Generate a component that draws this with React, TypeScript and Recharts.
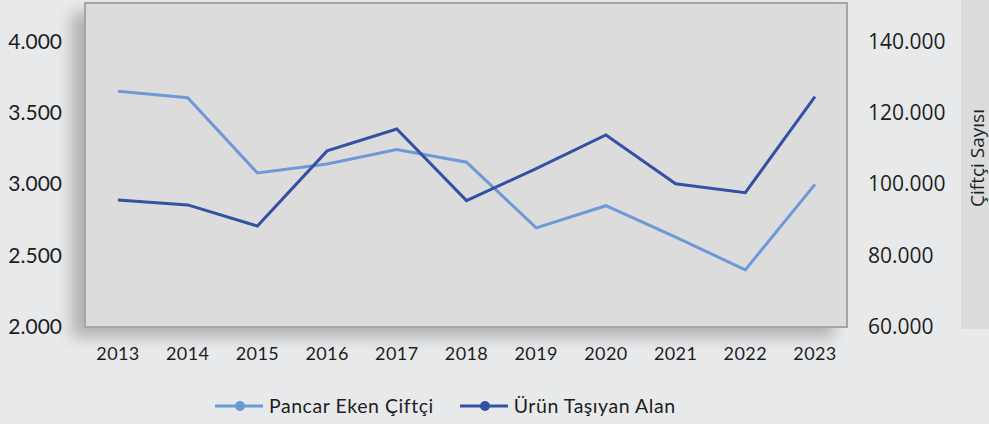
import React from 'react';
import { LineChart, Line, XAxis, YAxis, CartesianGrid, Legend } from 'recharts';

const years = ['2013', '2014', '2015', '2016', '2017', '2018', '2019', '2020', '2021', '2022', '2023'];
const pancarEkenCiftci = [126000, 124200, 103100, 105600, 109700, 106100, 87700, 93900, 85100, 75900, 99900];
const urunTasiyanAlan = [2888, 2853, 2705, 3232, 3386, 2883, 3108, 3344, 3002, 2939, 3613];
const leftTicks = [2000, 2500, 3000, 3500, 4000];
const rightTicks = [60000, 80000, 100000, 120000, 140000];
const seriesNames = ['Pancar Eken Çiftçi', 'Ürün Taşıyan Alan'];
const rightAxisTitle = 'Çiftçi Sayısı';

const data = years.map((y, i) => ({
  year: y,
  ciftci: pancarEkenCiftci[i],
  alan: urunTasiyanAlan[i],
}));

const LIGHT = '#6e99d7';
const DARK = '#3551a3';

const fmt = (v: number) => String(v).replace(/\B(?=(\d{3})+(?!\d))/g, '.');

const PLOT = { x: 85, y: 3, w: 762, h: 323.5 };

const LegendContent = () => {
  const items = [
    { name: seriesNames[0], color: LIGHT },
    { name: seriesNames[1], color: DARK },
  ];
  return (
    <div style={{ display: 'flex', alignItems: 'center', fontFamily: 'Lato', fontSize: 19.5, letterSpacing: 0.55, color: '#1e1e1e', lineHeight: '24px', whiteSpace: 'nowrap' }}>
      {items.map((it, i) => (
        <div key={it.name} style={{ display: 'flex', alignItems: 'center', marginRight: i === 0 ? 26 : 0 }}>
          <svg width={48} height={12} style={{ marginRight: 6 }}>
            <line x1={0} y1={6} x2={48} y2={6} stroke={it.color} strokeWidth={3} />
            <circle cx={25} cy={6} r={5} fill={it.color} />
          </svg>
          <span>{it.name}</span>
        </div>
      ))}
    </div>
  );
};

export default function App() {
  return (
    <div style={{ position: 'absolute', left: 0, top: 0, width: 989, height: 424, background: '#e8e9eb', overflow: 'hidden' }}>
      <div
        style={{
          position: 'absolute',
          left: PLOT.x,
          top: PLOT.y,
          width: PLOT.w,
          height: PLOT.h,
          background: '#dcdcdc',
          boxShadow: '-13px 10px 14px rgba(0,0,0,0.24)',
        }}
      />
      <div
        style={{
          position: 'absolute',
          left: 961,
          top: 0,
          width: 28,
          height: 329,
          background: '#dcdcdc',
        }}
      />
      <div style={{ position: 'absolute', left: 0, top: 0 }}>
        <LineChart width={989} height={424} data={data} margin={{ top: 3, right: 0, left: 0, bottom: 37.5 }}>
          <CartesianGrid vertical={false} stroke="#ececec" strokeWidth={1.5} />
          <XAxis
            dataKey="year"
            height={60}
            axisLine={false}
            tickLine={false}
            tickSize={0}
            tickMargin={21}
            padding={{ left: 33, right: 32 }}
            tick={{ fontFamily: 'Lato', fontSize: 18, fill: '#1e1e1e', letterSpacing: 0.4 }}
          />
          <YAxis
            yAxisId="left"
            orientation="left"
            width={85}
            domain={[2000, 4270]}
            ticks={leftTicks}
            allowDataOverflow
            axisLine={false}
            tickLine={false}
            tickSize={0}
            tickMargin={23}
            tickFormatter={fmt}
            tick={{ fontFamily: 'Lato', fontSize: 21, fill: '#1e1e1e' }}
          />
          <YAxis
            yAxisId="right"
            orientation="right"
            width={142}
            domain={[60000, 150800]}
            ticks={rightTicks}
            allowDataOverflow
            axisLine={false}
            tickLine={false}
            tickSize={0}
            tickMargin={21}
            tickFormatter={fmt}
            tick={{ fontFamily: 'Open Sans', fontSize: 21, fill: '#1e1e1e' }}
          />
          <Legend
            layout="horizontal"
            verticalAlign="middle"
            align="center"
            content={LegendContent}
            wrapperStyle={{ position: 'absolute', top: 394, left: 215, width: 'auto', height: 24 }}
          />
          <Line
            yAxisId="right"
            type="linear"
            dataKey="ciftci"
            name={seriesNames[0]}
            stroke={LIGHT}
            strokeWidth={3}
            dot={false}
            activeDot={false}
            isAnimationActive={false}
          />
          <Line
            yAxisId="left"
            type="linear"
            dataKey="alan"
            name={seriesNames[1]}
            stroke={DARK}
            strokeWidth={3}
            dot={false}
            activeDot={false}
            isAnimationActive={false}
          />
        </LineChart>
      </div>
      <div
        style={{
          position: 'absolute',
          left: PLOT.x - 1,
          top: PLOT.y - 1,
          width: PLOT.w + 2,
          height: PLOT.h + 2,
          boxSizing: 'border-box',
          border: '2.5px solid #a5a5a5',
          pointerEvents: 'none',
        }}
      />
      <div
        style={{
          position: 'absolute',
          left: 977,
          top: 158,
          transform: 'translate(-50%, -50%) rotate(-90deg)',
          fontFamily: 'Open Sans',
          fontSize: 19,
          color: '#1e1e1e',
          whiteSpace: 'nowrap',
          lineHeight: '20px',
        }}
      >
        {rightAxisTitle}
      </div>
    </div>
  );
}
